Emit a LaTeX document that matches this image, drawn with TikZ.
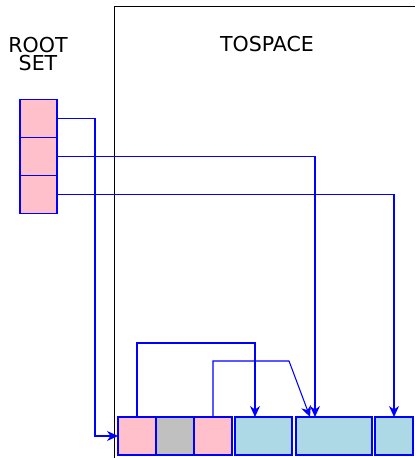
\documentclass[tikz,border=0pt]{standalone}
\usepackage{fontspec}
\setmainfont{DejaVu Sans}
\usetikzlibrary{positioning,arrows.meta}

\definecolor{pink}{RGB}{255,192,203}
\definecolor{lightgray}{RGB}{192,192,192}
\definecolor{lightblue}{RGB}{173,216,230}

\begin{document}
\begin{tikzpicture}[
  cell/.style={draw=blue, line width=0.6pt, inner sep=0pt, outer sep=0pt, minimum height=0.76cm},
  pinkcell/.style={cell, fill=pink, minimum width=0.76cm},
  graycell/.style={cell, fill=lightgray, minimum width=0.76cm},
  bluecell/.style={cell, fill=lightblue},
  ptr/.style={color=blue, line width=0.6pt, -{Stealth[length=2.2mm, width=2mm]}},
  title/.style={align=center, font=\fontsize{11.7pt}{10.4pt}\selectfont}
]
\useasboundingbox (0,0) rectangle (8.3,9.16);

% The tospace region
\draw (2.28,0) -- (2.28,9.04) -- (8.3,9.04);
\node[title] (tolabel) at (5.34,8.28) {TOSPACE};
\node[title] (rootlabel) at (0.76,8.08) {ROOT\\SET};

% Root set
\node[pinkcell, minimum width=0.74cm] (r1) at (0.77,6.79) {};
\node[pinkcell, minimum width=0.74cm, below=0pt of r1] (r2) {};
\node[pinkcell, minimum width=0.74cm, below=0pt of r2] (r3) {};

% Copied objects in tospace
\node[pinkcell] (a) at (2.74,0.44) {};
\node[graycell, right=0pt of a] (b) {};
\node[pinkcell, right=0pt of b] (c) {};
\node[bluecell, minimum width=1.14cm, right=0.06cm of c] (d) {};
\node[bluecell, minimum width=1.52cm, right=0.08cm of d] (e) {};
\node[bluecell, minimum width=0.76cm, right=0.06cm of e] (f) {};

% Pointers from the root set
\draw[ptr] (r1.east) -- ++(0.76,0) |- (a.west);
\draw[ptr] (r2.east) -| ([xshift=-0.38cm]e.north);
\draw[ptr] (r3.east) -| (f.north);

% Pointers between objects
\draw[ptr] (a.north) -- ++(0,1.48) -| ([xshift=-0.17cm]d.north);
\draw[ptr] (c.north) -- ++(0,1.12) -- ++(1.52,0) -- ([xshift=-0.48cm]e.north);
\end{tikzpicture}
\end{document}
